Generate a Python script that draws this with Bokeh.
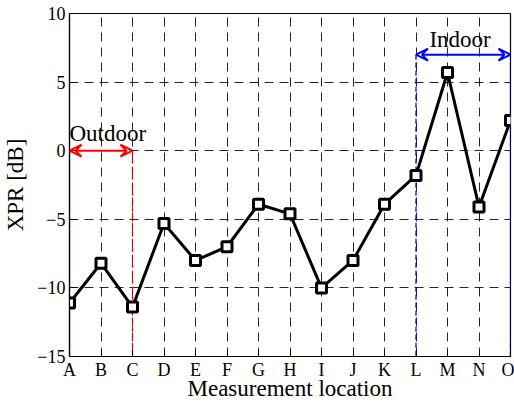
from bokeh.plotting import figure
from bokeh.models import ColumnDataSource, FixedTicker, Arrow, VeeHead, Range1d, Label
from bokeh.embed import file_html
from bokeh.resources import INLINE

locations = ["A", "B", "C", "D", "E", "F", "G", "H", "I", "J", "K", "L", "M", "N", "O"]
xpr_db = [-11.1, -8.2, -11.4, -5.3, -8.0, -7.0, -3.9, -4.6, -10.0, -8.0, -3.9, -1.8, 5.7, -4.1, 2.2]
y_ticks = [-15, -10, -5, 0, 5, 10]

outdoor_span = ["A", "C"]
indoor_span = ["L", "O"]
outdoor_arrow_y = 0.0
indoor_arrow_y = 7.0

idx = list(range(len(locations)))
src = ColumnDataSource(dict(x=idx, y=xpr_db))

FONT = "Liberation Serif"
Y0, Y1 = -15, 10

p = figure(width=514, height=403, output_backend="svg", toolbar_location=None,
           x_range=Range1d(0, len(locations) - 1), y_range=Range1d(Y0, Y1),
           min_border_left=68, min_border_right=4, min_border_top=13, min_border_bottom=44)
p.background_fill_color = "white"
p.border_fill_color = "white"
p.outline_line_color = "black"
p.outline_line_width = 1.2

# axes
p.xaxis.ticker = FixedTicker(ticks=idx)
p.xaxis.major_label_overrides = {i: l for i, l in enumerate(locations)}
p.yaxis.ticker = FixedTicker(ticks=y_ticks)
for ax in (p.xaxis[0], p.yaxis[0]):
    ax.major_tick_in = 6
    ax.major_tick_out = 0
    ax.minor_tick_line_color = None
    ax.axis_line_color = "black"
    ax.axis_line_width = 1.2
    ax.major_tick_line_color = "black"
    ax.major_label_text_font = FONT
    ax.major_label_text_font_size = "18px"
    ax.major_label_text_color = "black"
    ax.axis_label_text_font = FONT
    ax.axis_label_text_font_size = "23px"
    ax.axis_label_text_font_style = "normal"
    ax.axis_label_text_color = "black"
p.xaxis.axis_label = "Measurement location"
p.yaxis.axis_label = "XPR [dB]"
p.xaxis.major_label_standoff = 3
p.xaxis.axis_label_standoff = -7
p.yaxis.major_label_standoff = 4
p.yaxis.axis_label_standoff = 6

# grid
for g in (p.xgrid[0], p.ygrid[0]):
    g.grid_line_color = "black"
    g.grid_line_alpha = 0.85
    g.grid_line_dash = "9 6"
    g.grid_line_width = 1

# region annotations
o0, o1 = locations.index(outdoor_span[0]), locations.index(outdoor_span[1])
i0, i1 = locations.index(indoor_span[0]), locations.index(indoor_span[1])

p.segment(x0=[o0, o1], y0=[outdoor_arrow_y] * 2, x1=[o0, o1], y1=[Y0, Y0],
          line_color="#ff0000", line_dash="5 3", line_width=1.3)
p.segment(x0=[i0, i1], y0=[indoor_arrow_y] * 2, x1=[i0, i1], y1=[Y0, Y0],
          line_color="#0000ff", line_dash="5 3", line_width=1.3)

p.add_layout(Arrow(x_start=o0, y_start=outdoor_arrow_y, x_end=o1, y_end=outdoor_arrow_y,
                   line_color="#ff0000", line_width=2,
                   start=VeeHead(size=12, line_color="#ff0000", line_width=2, fill_color=None),
                   end=VeeHead(size=12, line_color="#ff0000", line_width=2, fill_color=None)))
p.add_layout(Arrow(x_start=i0, y_start=indoor_arrow_y, x_end=i1, y_end=indoor_arrow_y,
                   line_color="#0000ff", line_width=2,
                   start=VeeHead(size=12, line_color="#0000ff", line_width=2, fill_color=None),
                   end=VeeHead(size=12, line_color="#0000ff", line_width=2, fill_color=None)))

p.add_layout(Label(x=o0, y=outdoor_arrow_y + 1.25, text="Outdoor", text_font=FONT,
                   text_font_size="23px", text_color="black", text_align="left",
                   text_baseline="alphabetic"))
p.add_layout(Label(x=(i0 + i1) / 2 - 0.1, y=indoor_arrow_y + 1.1, text="Indoor", text_font=FONT,
                   text_font_size="23px", text_color="black", text_align="center",
                   text_baseline="alphabetic"))

# data
p.line("x", "y", source=src, line_color="black", line_width=3)
p.scatter("x", "y", source=src, marker="square", size=10, line_color="black",
          line_width=3, fill_color="white")

open("out.html", "w").write(file_html(p, INLINE))
